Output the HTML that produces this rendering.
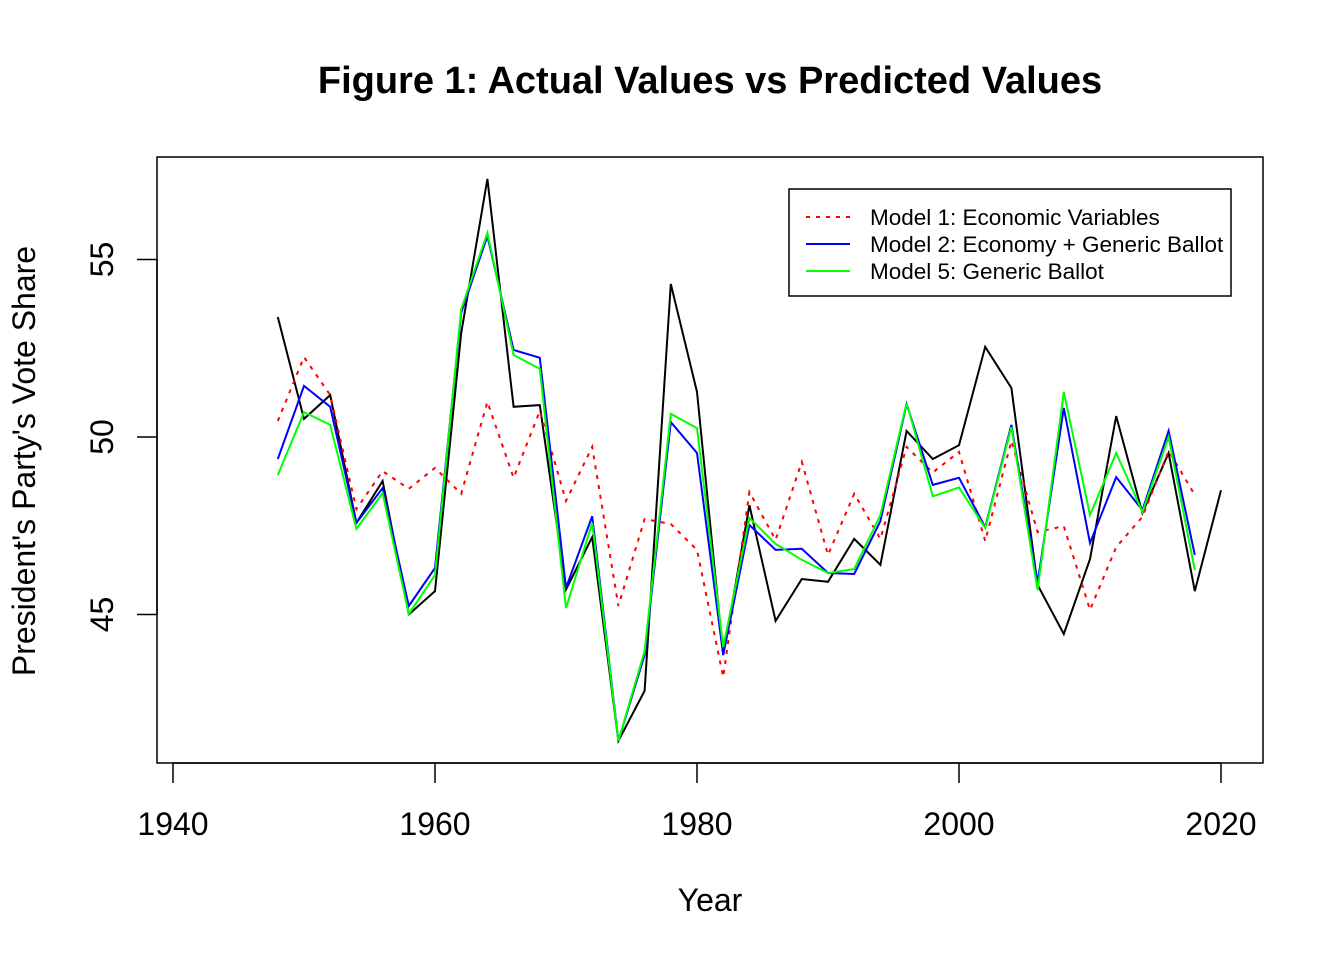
<!DOCTYPE html>
<html><head><meta charset="utf-8"><style>
html,body{margin:0;padding:0;background:#fff}
svg text{font-family:"Liberation Sans",Arial,sans-serif}
</style></head><body>
<svg id="chart" width="1344" height="960" xmlns="http://www.w3.org/2000/svg">
<rect width="1344" height="960" fill="#fff"/>
<text x="710" y="93" text-anchor="middle" font-size="38" font-weight="bold">Figure 1: Actual Values vs Predicted Values</text>
<rect x="157" y="157" width="1106" height="606" fill="none" stroke="#000" stroke-width="1.5"/>
<g id="xaxis"></g>
<g id="yaxis"></g>
<text x="710" y="911" text-anchor="middle" font-size="32">Year</text>
<text transform="translate(35,461) rotate(-90)" text-anchor="middle" font-size="32">President's Party's Vote Share</text>
<g id="series"></g>
<g>
<rect x="789" y="189" width="442" height="107" fill="#fff" stroke="#000" stroke-width="1.5"/>
<line x1="806" y1="217" x2="850" y2="217" stroke="#ff0000" stroke-width="2" stroke-dasharray="4,6"/>
<text x="870" y="225" font-size="22.5">Model 1: Economic Variables</text>
<line x1="806" y1="244" x2="850" y2="244" stroke="#0000ff" stroke-width="2"/>
<text x="870" y="252" font-size="22.5">Model 2: Economy + Generic Ballot</text>
<line x1="806" y1="271" x2="850" y2="271" stroke="#00ff00" stroke-width="2"/>
<text x="870" y="279" font-size="22.5">Model 5: Generic Ballot</text>
</g>
</svg>
<script>
const years = [];
for (let y = 1948; y <= 2020; y += 2) years.push(y);
const actual = [53.38,50.51,51.18,47.58,48.76,45.0,45.66,52.93,57.27,50.85,50.9,45.7,47.18,41.44,42.85,54.31,51.27,43.86,48.08,44.82,46.0,45.92,47.13,46.4,50.17,49.38,49.77,52.54,51.38,45.83,44.45,46.56,50.59,47.86,49.55,45.66,48.5];
const model1 = [50.45,52.25,51.18,47.97,49.04,48.54,49.13,48.4,50.99,48.85,50.73,48.2,49.72,45.24,47.69,47.55,46.82,43.24,48.45,47.1,49.3,46.68,48.4,47.13,49.72,49.0,49.58,47.07,49.89,47.32,47.49,45.13,46.9,47.75,49.61,48.37];
const model2 = [49.38,51.44,50.85,47.58,48.56,45.24,46.31,53.5,55.66,52.45,52.23,45.75,47.77,41.44,43.86,50.42,49.55,43.86,47.52,46.82,46.85,46.17,46.14,47.63,50.93,48.65,48.85,47.46,50.34,45.89,50.82,47.01,48.87,47.94,50.17,46.68];
const model5 = [48.93,50.7,50.34,47.41,48.42,45.01,46.11,53.6,55.75,52.31,51.92,45.18,47.58,41.44,43.97,50.65,50.25,44.08,47.72,46.99,46.54,46.17,46.28,47.8,50.96,48.33,48.58,47.44,50.28,45.69,51.27,47.8,49.55,47.89,50.0,46.25];
const xTicks = [1940,1960,1980,2000,2020];
const yTicks = [45,50,55];

const NS = "http://www.w3.org/2000/svg";
const xs = v => 173 + (v - 1940) * 13.1;
const ys = v => 437 - (v - 50) * 35.5;

const xa = document.getElementById('xaxis');
const xl = document.createElementNS(NS,'line');
xl.setAttribute('x1', xs(xTicks[0])); xl.setAttribute('x2', xs(xTicks[xTicks.length-1]));
xl.setAttribute('y1', 763); xl.setAttribute('y2', 763); xl.setAttribute('stroke','#000'); xl.setAttribute('stroke-width','1.5');


xa.appendChild(xl);
xTicks.forEach(t => {
  const l = document.createElementNS(NS,'line');
  l.setAttribute('x1', xs(t)); l.setAttribute('x2', xs(t)); l.setAttribute('y1', 763); l.setAttribute('y2', 783);
  l.setAttribute('stroke','#000'); l.setAttribute('stroke-width','1.5');
  
  
  xa.appendChild(l);
  const tx = document.createElementNS(NS,'text');
  tx.setAttribute('x', xs(t)); tx.setAttribute('y', 835); tx.setAttribute('text-anchor','middle'); tx.setAttribute('font-size','32');
  tx.textContent = t;
  
  
  xa.appendChild(tx);
});
const ya = document.getElementById('yaxis');
const yl = document.createElementNS(NS,'line');
yl.setAttribute('x1', 157); yl.setAttribute('x2', 157);
yl.setAttribute('y1', ys(yTicks[0])); yl.setAttribute('y2', ys(yTicks[yTicks.length-1]));
yl.setAttribute('stroke','#000'); yl.setAttribute('stroke-width','1.5');


ya.appendChild(yl);
yTicks.forEach(t => {
  const l = document.createElementNS(NS,'line');
  l.setAttribute('x1', 137); l.setAttribute('x2', 157); l.setAttribute('y1', ys(t)); l.setAttribute('y2', ys(t));
  l.setAttribute('stroke','#000'); l.setAttribute('stroke-width','1.5');
  
  
  ya.appendChild(l);
  const tx = document.createElementNS(NS,'text');
  tx.setAttribute('transform', 'translate(113,' + ys(t) + ') rotate(-90)');
  tx.setAttribute('text-anchor','middle'); tx.setAttribute('font-size','32');
  tx.textContent = t;
  
  
  ya.appendChild(tx);
});

const sg = document.getElementById('series');
function drawLine(vals, color, dash, name) {
  const pts = vals.map((v,i) => xs(years[i]).toFixed(1) + ',' + ys(v).toFixed(1)).join(' ');
  const p = document.createElementNS(NS,'polyline');
  p.setAttribute('points', pts); p.setAttribute('fill','none'); p.setAttribute('stroke', color);
  p.setAttribute('stroke-width','2');
  if (dash) p.setAttribute('stroke-dasharray', dash);
  
  
  sg.appendChild(p);
}
drawLine(actual, '#000000', null, 'actual-line');
drawLine(model1, '#ff0000', '4,6', 'model1-line');
drawLine(model2, '#0000ff', null, 'model2-line');
drawLine(model5, '#00ff00', null, 'model5-line');
</script>
</body></html>
